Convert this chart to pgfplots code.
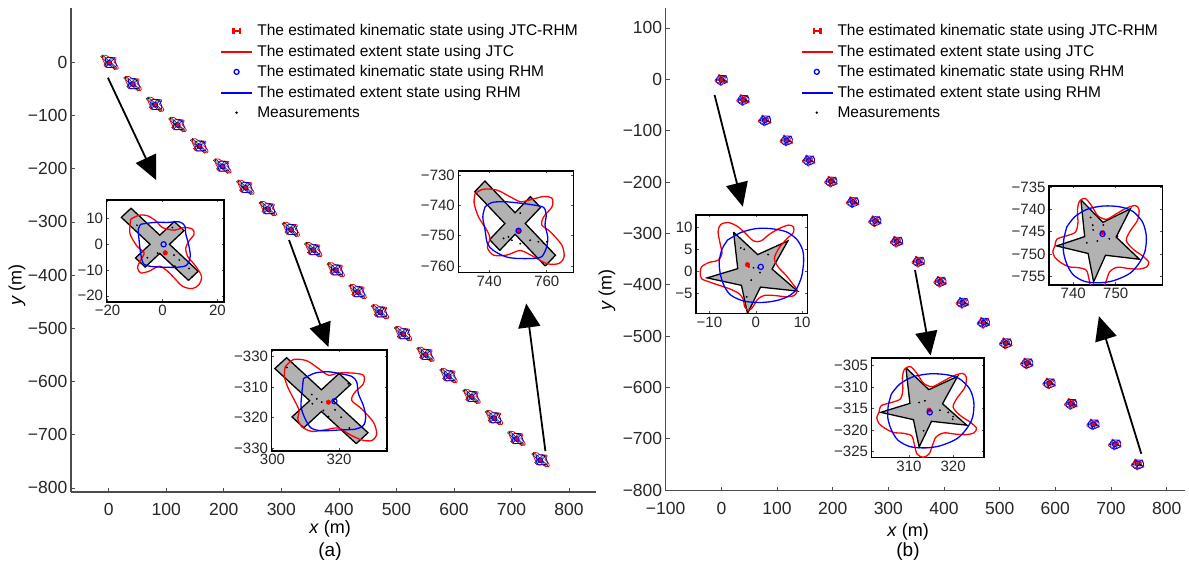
\documentclass[border=0pt]{standalone}
\usepackage{fontspec}
\setmainfont{Liberation Sans}
\usepackage{pgfplots}
\pgfplotsset{compat=1.18}
\usepackage{pgfplotstable}
\usetikzlibrary{arrows.meta}
\definecolor{jtcred}{rgb}{1,0,0}
\definecolor{rhmblue}{rgb}{0,0,1}

% ---------- ground-truth shapes (local coordinates about the object centre) ----------
\pgfplotstableread{
x y
10.46 -14.0
14.0 -10.46
3.54 0
8.84 5.30
5.30 8.84
0 3.54
-10.46 14.0
-14.0 10.46
-3.54 0
-8.84 -5.30
-5.30 -8.84
0 -3.54
10.46 -14.0
}\crossA

\pgfplotstableread{
x y
-4.8 8.9
0.4 3.8
6.9 6.9
3.5 0.5
9.0 -4.5
1.0 -3.6
-1.8 -9.6
-3.1 -3.2
-10.5 -1.5
-3.9 0.6
-4.8 8.9
}\starB

% ---------- estimated extents, cross target ----------
\pgfplotstableread{
x y
-10.9 11.0
-8.4 13.4
-4.4 13.0
-0.9 10.5
2.1 8.3
5.1 9.0
9.1 9.0
12.6 8.3
12.6 5.5
10.1 2.8
9.1 0.1
12.1 -2.7
15.6 -7.0
16.6 -10.9
15.1 -13.0
12.1 -12.8
8.6 -11.1
5.1 -8.9
1.1 -9.5
-2.9 -10.0
-5.9 -8.5
-7.1 -5.9
-6.7 -3.2
-8.1 0.1
-9.9 3.9
-11.1 7.7
-10.9 11.0
}\redA

\pgfplotstableread{
x y
-5.4 7.2
-1.9 9.0
2.1 9.4
5.6 8.8
9.1 7.9
10.6 6.1
11.1 2.3
12.6 -1.6
13.3 -5.4
12.6 -8.1
10.1 -9.3
6.1 -9.5
0.1 -9.8
-3.1 -8.9
-4.9 -5.9
-6.1 -2.1
-5.9 2.3
-5.4 7.2
}\blueA

\pgfplotstableread{
x y
-10.4 10.8
-2.9 2.0
-1.4 0.6
0.1 -0.5
-2.7 -1.0
0.6 -3.2
4.1 -3.0
5.1 8.8
8.1 5.5
8.4 -8.9
5.9 -5.4
2.1 -5.2
}\measA

\pgfplotstableread{
x y
-11.5 9.8
-8.5 11.3
-5.5 11.1
-2.4 9.1
0 6.5
4.2 5.5
7.9 6.5
10.9 5.9
11.5 3.9
9.7 1.3
8.5 -1.3
9.1 -4.6
12.1 -8.5
14.2 -12.4
13.3 -15.6
10.9 -17.2
7.3 -16.3
4.2 -13.0
1.8 -10.4
-1.2 -8.5
-4.8 -10.4
-7.9 -11.1
-9.1 -9.1
-7.9 -5.9
-6.7 -3.3
-9.3 -0.7
-11.8 3.9
-11.8 7.8
-11.5 9.8
}\redAone

\pgfplotstableread{
x y
-7.9 7.8
-3.0 8.5
1.8 8.5
6.1 8.7
8.1 7.2
8.5 3.9
9.5 0
10.1 -4.6
8.8 -8.1
5.5 -8.9
0.6 -8.9
-4.2 -8.6
-6.9 -7.6
-7.9 -3.9
-8.5 1.3
-8.8 5.9
-7.9 7.8
}\blueAone

\pgfplotstableread{
x y
-9.3 7.4
-1.8 -3.4
0.8 -3.9
4.2 -4.2
6.1 -6.1
4.5 -8.5
9.7 -9.4
10.7 -12.8
-5.5 -5.2
3.6 6.5
}\measAone

\pgfplotstableread{
x y
304.3 -303.7
311.8 -312.5
313.3 -313.9
314.8 -315.0
312.0 -315.5
315.3 -317.7
318.8 -317.5
319.8 -305.7
322.8 -309.0
323.1 -323.4
320.6 -319.9
316.8 -319.7
}\measAtwo

\pgfplotstableread{
x y
-13.9 9.9
-11.0 11.3
-6.3 11.0
-1.7 8.8
1.8 7.2
5.2 7.8
9.9 8.9
12.8 8.3
12.8 5.5
9.9 2.2
9.3 -0.5
12.2 -2.7
16.2 -7.1
17.0 -11.0
15.1 -13.2
11.0 -13.2
6.4 -10.9
1.8 -8.9
-2.9 -10.4
-7.5 -10.4
-9.6 -7.9
-8.7 -4.9
-9.8 -2.2
-12.7 2.2
-14.2 6.7
-13.9 9.9
}\redAthree

\pgfplotstableread{
x y
-10.4 5.5
-8.1 6.9
-4.0 7.2
1.8 6.7
6.4 6.1
9.9 5.3
10.8 2.8
10.4 -0.5
11.3 -4.3
11.0 -7.6
9.3 -10.9
6.4 -11.5
0.6 -11.5
-3.4 -10.9
-7.5 -8.9
-9.6 -6.6
-10.4 -2.2
-11.2 2.2
-10.4 5.5
}\blueAthree

\pgfplotstableread{
x y
750.8 -742.6
746.7 -750.4
747.9 -751.5
754.2 -751.5
757.1 -752.0
758.9 -752.5
760.0 -752.0
745.0 -750.9
750.8 -752.6
}\measAthree

% ---------- estimated extents, star target ----------
\pgfplotstableread{
x y
-10.9 -1.5
-10.4 0.05
-8.1 0.8
-6.1 1.6
-5.5 3.6
-5.6 6.7
-5.1 8.6
-3.8 9.2
-2.3 7.6
-0.8 5.3
1.2 4.5
3.5 5.7
5.9 7.0
8.0 7.6
8.9 6.7
8.55 4.3
6.8 1.85
5.9 -0.3
7.6 -2.3
9.8 -3.8
11.2 -5.2
10.6 -6.3
8.9 -6.7
6.5 -6.6
3.8 -6.3
2.0 -7.3
1.2 -9.3
0.45 -11.2
-0.9 -12.0
-2.3 -11.2
-2.9 -8.9
-3.5 -7.0
-5.3 -6.4
-7.6 -6.2
-9.6 -5.2
-10.9 -4.1
-11.4 -2.8
-10.9 -1.5
}\redB

\pgfplotstableread{
x y
-8.1 2.8
-6.2 5.1
-3.2 6.8
0.6 7.5
4.4 7.3
7.4 6.3
9.7 3.9
10.6 0.8
10.3 -2.7
8.9 -5.4
6.7 -7.7
3.0 -9.3
-0.3 -9.8
-3.9 -9.5
-6.6 -8.0
-8.1 -5.6
-8.9 -2.8
-8.8 0.06
-8.1 2.8
}\blueB

\pgfplotstableread{
x y
-1.8 0.8
-0.5 1.2
0.6 -0.7
2.9 -1.0
4.8 -1.5
5.9 -2.5
5.8 -3.1
-0.8 -5.8
0.6 -1.5
}\measB

\pgfplotstableread{
x y
-12.0 -0.5
-11.7 1.0
-10.1 2.0
-8.15 2.5
-7.3 4.0
-7.7 6.3
-8.15 9.0
-7.6 10.6
-6.0 11.1
-4.1 10.3
-2.4 8.8
-0.5 6.9
1.1 6.9
2.9 8.4
5.0 9.7
7.0 10.5
8.1 10.1
8.1 8.8
6.8 7.5
5.0 5.3
4.0 2.9
4.8 1.0
6.5 -0.9
7.9 -2.8
8.9 -4.3
8.3 -5.5
6.5 -5.8
4.0 -5.5
1.8 -5.5
0.35 -6.4
-0.5 -7.9
-1.45 -8.9
-2.4 -8.1
-2.7 -6.4
-3.6 -5.1
-5.4 -4.1
-7.6 -3.3
-10.1 -2.4
-11.7 -1.7
-12.0 -0.5
}\redBone

\pgfplotstableread{
x y
-6.1 7.1
-3.25 8.8
0.0 9.7
3.2 9.7
6.5 9.0
8.8 7.3
10.1 4.8
10.3 2.1
9.85 -1.3
8.6 -4.3
6.8 -5.8
4.3 -6.7
1.1 -7.1
-2.5 -6.8
-5.3 -5.5
-6.7 -3.6
-7.6 -0.9
-7.9 2.1
-7.3 5.0
-6.1 7.1
}\blueBone

\pgfplotstableread{
x y
-3.25 5.3
-2.5 5.0
2.65 3.8
-0.5 0.8
0.5 0.8
0.9 -0.3
-1.0 -2.0
-1.96 -5.8
-1.5 1.0
}\measBone

\pgfplotstableread{
x y
312.3 -313.6
313.6 -313.2
314.7 -315.1
317.0 -315.4
318.9 -315.9
320.0 -316.9
319.9 -317.5
313.3 -320.2
}\measBtwo

\pgfplotstableread{
x y
744.1 -741.8
744.6 -743.5
747.1 -743.5
750.4 -746.0
748.5 -746.6
743.2 -747.5
745.7 -747.1
744.7 -744.6
}\measBthree

% ---------- styles ----------
\pgfplotsset{
  mainax/.style={
    scale only axis, anchor=south west, clip=false,
    axis lines=left, axis line style={-, line width=1.4bp, black!70},
    tick align=inside, major tick length=4bp,
    tick style={black!70, line width=0.7bp},
    ticklabel style={font=\fontsize{17.5bp}{20bp}\selectfont, text=black!85},
    xticklabel style={yshift=-8bp},
    label style={font=\fontsize{18bp}{21bp}\selectfont},
    legend cell align=left,
  },
  inset/.style={
    scale only axis, anchor=south west,
    axis background/.style={fill=white},
    axis line style={line width=1.3bp},
    tick align=inside, major tick length=2.5bp,
    tick style={line width=0.6bp, black!70},
    ticklabel style={font=\fontsize{15bp}{17bp}\selectfont, text=black!85},
  },
  truth/.style={fill=black!30, draw=black, line width=1.3bp},
  jtc/.style={jtcred, line width=1.3bp, smooth},
  rhm/.style={rhmblue, line width=1.3bp, smooth},
  meas/.style={only marks, mark=*, mark size=0.7bp, black},
  estjtc/.style={only marks, mark=*, mark size=2.3bp, jtcred},
  estrhm/.style={only marks, mark=o, mark size=2.6bp, rhmblue, mark options={line width=1.2bp}},
  legfont/.style={font=\fontsize{15.5bp}{18bp}\selectfont},
  legpos/.style={legend style={legfont, draw=none, fill=none, at={(axis description cs:#1)},
    anchor=north west, row sep=4.8bp, inner sep=0pt, nodes={inner sep=1.5bp},
    /tikz/every odd column/.append style={column sep=4bp}}},
}

\newcommand\legendset{%
  \addlegendimage{legend image code/.code={%
    \fill[jtcred] (11.5bp,-0.7bp) rectangle (18.5bp,0.7bp);
    \fill[jtcred] (11bp,-2.4bp) rectangle (12.2bp,2.4bp);
    \fill[jtcred] (17.8bp,-2.4bp) rectangle (19bp,2.4bp);}}
  \addlegendentry{The estimated kinematic state using JTC-RHM}
  \addlegendimage{legend image code/.code={\fill[jtcred] (0bp,-0.6bp) rectangle (30bp,0.6bp);}}
  \addlegendentry{The estimated extent state using JTC}
  \addlegendimage{legend image code/.code={\draw[rhmblue, line width=1.3bp] (15bp,0bp) circle (2.5bp);}}
  \addlegendentry{The estimated kinematic state using RHM}
  \addlegendimage{legend image code/.code={\fill[rhmblue] (0bp,-0.6bp) rectangle (30bp,0.6bp);}}
  \addlegendentry{The estimated extent state using RHM}
  \addlegendimage{legend image code/.code={\fill[black] (15bp,0bp) circle (1bp);}}
  \addlegendentry{Measurements}
}

\begin{document}
\begin{tikzpicture}[x=1bp, y=1bp]
\useasboundingbox (0bp,0bp) rectangle (1189bp,562bp);

% =================== panel (a): cross-shaped target ===================
\begin{axis}[mainax, at={(70.8bp,70bp)}, width=525.1bp, height=483.7bp,
  xmin=-65.9, xmax=846.6, ymin=-807.7, ymax=101.5,
  xtick={0,100,...,800}, xticklabels={0,100,200,300,400,500,600,700,800},
  ytick={-800,-700,...,0}, yticklabels={−800,−700,−600,−500,−400,−300,−200,−100,0},
  xlabel={\textit{x} (m)}, ylabel={\textit{y} (m)},
  xlabel style={at={(axis description cs:0.494,-0.0765)}, anchor=center},
  ylabel style={at={(axis description cs:-0.1025,0.428)}, anchor=center},
  legpos={0.2864,0.9701},
]
\legendset
\foreach \cx/\cy in {0/0,40/-40,79/-79,118/-117,156/-157,196/-195,236/-235,275/-275,315/-314,354/-352,393/-390,431/-431,470/-469,510/-510,549/-549,589/-589,629/-628,668/-668,707/-707,749/-747}{
  \edef\glyph{%
    \noexpand\addplot[forget plot, fill=black!30, draw=black, line width=0.35bp]
      table[x expr=\noexpand\thisrow{x}+\cx, y expr=\noexpand\thisrow{y}+\cy]{\noexpand\crossA};
    \noexpand\addplot[forget plot, jtcred, line width=0.8bp, smooth]
      table[x expr=\noexpand\thisrow{x}+\cx, y expr=\noexpand\thisrow{y}+\cy]{\noexpand\redA};
    \noexpand\addplot[forget plot, rhmblue, line width=0.8bp, smooth]
      table[x expr=\noexpand\thisrow{x}+\cx, y expr=\noexpand\thisrow{y}+\cy]{\noexpand\blueA};
    \noexpand\addplot[forget plot, only marks, mark=*, mark size=0.35bp, black]
      table[x expr=\noexpand\thisrow{x}+\cx, y expr=\noexpand\thisrow{y}+\cy]{\noexpand\measA};
  }\glyph
}
\addplot[forget plot, only marks, mark=*, mark size=1.7bp, jtcred] coordinates {
 (1,-1) (42,-41) (81,-80) (120,-118) (158,-158) (198,-196) (238,-236) (277,-276) (317,-315) (356,-353)
 (395,-391) (433,-432) (472,-470) (512,-511) (551,-550) (591,-590) (631,-629) (670,-669) (709,-708) (750,-748)};
\addplot[forget plot, only marks, mark=o, mark size=2.4bp, rhmblue, mark options={line width=0.9bp}] coordinates {
 (1,-1) (42,-41) (81,-80) (120,-118) (158,-158) (198,-196) (238,-236) (277,-276) (317,-315) (356,-353)
 (395,-391) (433,-432) (472,-470) (512,-511) (551,-550) (591,-590) (631,-629) (670,-669) (709,-708) (750,-748)};
\end{axis}

% inset: first scan
\begin{axis}[inset, at={(106.5bp,260bp)}, width=117.5bp, height=102bp,
  xmin=-20.4, xmax=22.4, ymin=-22.4, ymax=17.2,
  xtick={-20,0,20}, xticklabels={−20,0,20},
  ytick={-20,-10,0,10}, yticklabels={−20,−10,0,10}]
\addplot[truth] table[x expr=\thisrow{x}-1, y expr=\thisrow{y}]{\crossA};
\addplot[jtc] table{\redAone};
\addplot[rhm] table{\blueAone};
\addplot[meas] table{\measAone};
\addplot[estjtc] coordinates {(1.0,-3.3)};
\addplot[estrhm] coordinates {(0.4,0)};
\end{axis}

% inset: ninth scan
\begin{axis}[inset, at={(271.5bp,111bp)}, width=115.5bp, height=101bp,
  xmin=299.7, xmax=334.4, ymin=-330.9, ymax=-298,
  xtick={300,320}, xticklabels={300,320},
  ytick={-330,-320,-310,-300}, yticklabels={−330,−320,−310,−330}]
\addplot[truth] table[x expr=\thisrow{x}+314.7, y expr=\thisrow{y}-314.5]{\crossA};
\addplot[jtc] table[x expr=\thisrow{x}+314.7, y expr=\thisrow{y}-314.5]{\redA};
\addplot[rhm] table[x expr=\thisrow{x}+314.7, y expr=\thisrow{y}-314.5]{\blueA};
\addplot[meas] table{\measAtwo};
\addplot[estjtc] coordinates {(316.8,-315.0)};
\addplot[estrhm] coordinates {(318.6,-314.7)};
\end{axis}

% inset: last scan
\begin{axis}[inset, at={(458.3bp,289.3bp)}, width=115bp, height=101.7bp,
  xmin=729.3, xmax=769.2, ymin=-762.2, ymax=-728.7,
  xtick={740,760}, xticklabels={740,760},
  ytick={-760,-750,-740,-730}, yticklabels={−760,−750,−740,−730}]
\addplot[truth] table[x expr=\thisrow{x}+749, y expr=\thisrow{y}-746]{\crossA};
\addplot[jtc] table[x expr=\thisrow{x}+749, y expr=\thisrow{y}-746]{\redAthree};
\addplot[rhm] table[x expr=\thisrow{x}+749, y expr=\thisrow{y}-746]{\blueAthree};
\addplot[meas] table{\measAthree};
\addplot[estjtc] coordinates {(750.2,-748.4)};
\addplot[estrhm] coordinates {(750.2,-748.4)};
\end{axis}

\draw[line width=1.8bp, -{Triangle[length=24bp,width=22bp]}] (107.9bp,484.3bp) -- (156.1bp,382bp);
\draw[line width=1.8bp, -{Triangle[length=24bp,width=22bp]}] (289bp,322bp) -- (328.4bp,214.9bp);
\draw[line width=1.8bp, -{Triangle[length=24bp,width=22bp]}] (545.4bp,110.9bp) -- (526.2bp,258.5bp);
\node[font=\fontsize{19bp}{22bp}\selectfont] at (330bp,10.2bp) {(a)};

% =================== panel (b): star-shaped target ===================
\begin{axis}[mainax, at={(665.7bp,71.3bp)}, width=519.3bp, height=482.4bp,
  xmin=-100, xmax=833, ymin=-801.3, ymax=138.3,
  xtick={-100,0,...,800}, xticklabels={−100,0,100,200,300,400,500,600,700,800},
  ytick={-800,-700,...,100}, yticklabels={−800,−700,−600,−500,−400,−300,−200,−100,0,100},
  xlabel={\textit{x} (m)}, ylabel={\textit{y} (m)},
  xlabel style={at={(axis description cs:0.467,-0.085)}, anchor=center},
  ylabel style={at={(axis description cs:-0.113,0.416)}, anchor=center},
  legpos={0.2613,0.9701},
]
\legendset
\foreach \cx/\cy in {0/0,39/-39,78/-79,117/-118,157/-157,197/-198,236/-238,276/-275,315/-315,354/-354,393/-393,433/-434,471/-473,511/-513,549/-552,589/-591,628/-631,668/-671,707/-710,748/-749}{
  \edef\glyph{%
    \noexpand\addplot[forget plot, fill=black!30, draw=black, line width=0.35bp]
      table[x expr=\noexpand\thisrow{x}+\cx, y expr=\noexpand\thisrow{y}+\cy]{\noexpand\starB};
    \noexpand\addplot[forget plot, jtcred, line width=0.8bp, smooth]
      table[x expr=\noexpand\thisrow{x}+\cx, y expr=\noexpand\thisrow{y}+\cy]{\noexpand\redB};
    \noexpand\addplot[forget plot, rhmblue, line width=0.8bp, smooth]
      table[x expr=\noexpand\thisrow{x}+\cx, y expr=\noexpand\thisrow{y}+\cy]{\noexpand\blueB};
    \noexpand\addplot[forget plot, only marks, mark=*, mark size=0.35bp, black]
      table[x expr=\noexpand\thisrow{x}+\cx, y expr=\noexpand\thisrow{y}+\cy]{\noexpand\measB};
  }\glyph
}
\addplot[forget plot, only marks, mark=*, mark size=1.7bp, jtcred] coordinates {
 (0,-1) (39,-40) (78,-80) (117,-119) (157,-158) (197,-199) (236,-239) (276,-276) (315,-316) (354,-355)
 (393,-394) (433,-435) (471,-474) (511,-514) (549,-553) (589,-592) (628,-632) (668,-672) (707,-711) (748,-748)};
\addplot[forget plot, only marks, mark=o, mark size=2.4bp, rhmblue, mark options={line width=0.9bp}] coordinates {
 (0,-1) (39,-40) (78,-80) (117,-119) (157,-158) (197,-199) (236,-239) (276,-276) (315,-316) (354,-355)
 (393,-394) (433,-435) (471,-474) (511,-514) (549,-553) (589,-592) (628,-632) (668,-672) (707,-711) (748,-748)};
\end{axis}

% inset: first scan
\begin{axis}[inset, at={(696bp,248.5bp)}, width=111.3bp, height=98.5bp,
  xmin=-12.9, xmax=11.1, ymin=-9.6, ymax=12.8,
  xtick={-10,0,10}, xticklabels={−10,0,10},
  ytick={-5,0,5,10}, yticklabels={−5,0,5,10}]
\addplot[truth] table{\starB};
\addplot[jtc] table{\redBone};
\addplot[rhm] table{\blueBone};
\addplot[meas] table{\measBone};
\addplot[estjtc] coordinates {(-1.8,1.5)};
\addplot[estrhm] coordinates {(1.07,1.0)};
\end{axis}

% inset: ninth scan
\begin{axis}[inset, at={(871.5bp,104.7bp)}, width=112.5bp, height=99.3bp,
  xmin=301.5, xmax=327, ymin=-326.4, ymax=-303.2,
  xtick={310,320}, xticklabels={310,320},
  ytick={-325,-320,...,-305}, yticklabels={−325,−320,−315,−310,−305}]
\addplot[truth] table[x expr=\thisrow{x}+314.1, y expr=\thisrow{y}-314.4]{\starB};
\addplot[jtc] table[x expr=\thisrow{x}+314.1, y expr=\thisrow{y}-314.4]{\redB};
\addplot[rhm] table[x expr=\thisrow{x}+314.1, y expr=\thisrow{y}-314.4]{\blueB};
\addplot[meas] table{\measBtwo};
\addplot[estjtc] coordinates {(314.55,-315.4)};
\addplot[estrhm] coordinates {(314.7,-315.9)};
\end{axis}

% inset: last scan
\begin{axis}[inset, at={(1049bp,277bp)}, width=113.4bp, height=99bp,
  xmin=734.3, xmax=761, ymin=-757, ymax=-734.7,
  xtick={740,750}, xticklabels={740,750},
  ytick={-755,-750,...,-735}, yticklabels={−755,−750,−745,−740,−735}]
\addplot[truth] table[x expr=\thisrow{x}+746.6, y expr=\thisrow{y}-746.7]{\starB};
\addplot[jtc] table[x expr=\thisrow{x}+746.6, y expr=\thisrow{y}-746.7]{\redB};
\addplot[rhm] table[x expr=\thisrow{x}+746.6, y expr=\thisrow{y}-746.7]{\blueB};
\addplot[meas] table{\measBthree};
\addplot[estjtc] coordinates {(746.9,-745.2)};
\addplot[estrhm] coordinates {(746.9,-745.5)};
\end{axis}

\draw[line width=1.8bp, -{Triangle[length=24bp,width=22bp]}] (714.6bp,467bp) -- (742.8bp,355.3bp);
\draw[line width=1.8bp, -{Triangle[length=24bp,width=22bp]}] (915bp,292bp) -- (930.6bp,206.5bp);
\draw[line width=1.8bp, -{Triangle[length=24bp,width=22bp]}] (1141.3bp,108.2bp) -- (1098.9bp,245.8bp);
\node[font=\fontsize{19bp}{22bp}\selectfont] at (908bp,10.2bp) {(b)};
\end{tikzpicture}
\end{document}
